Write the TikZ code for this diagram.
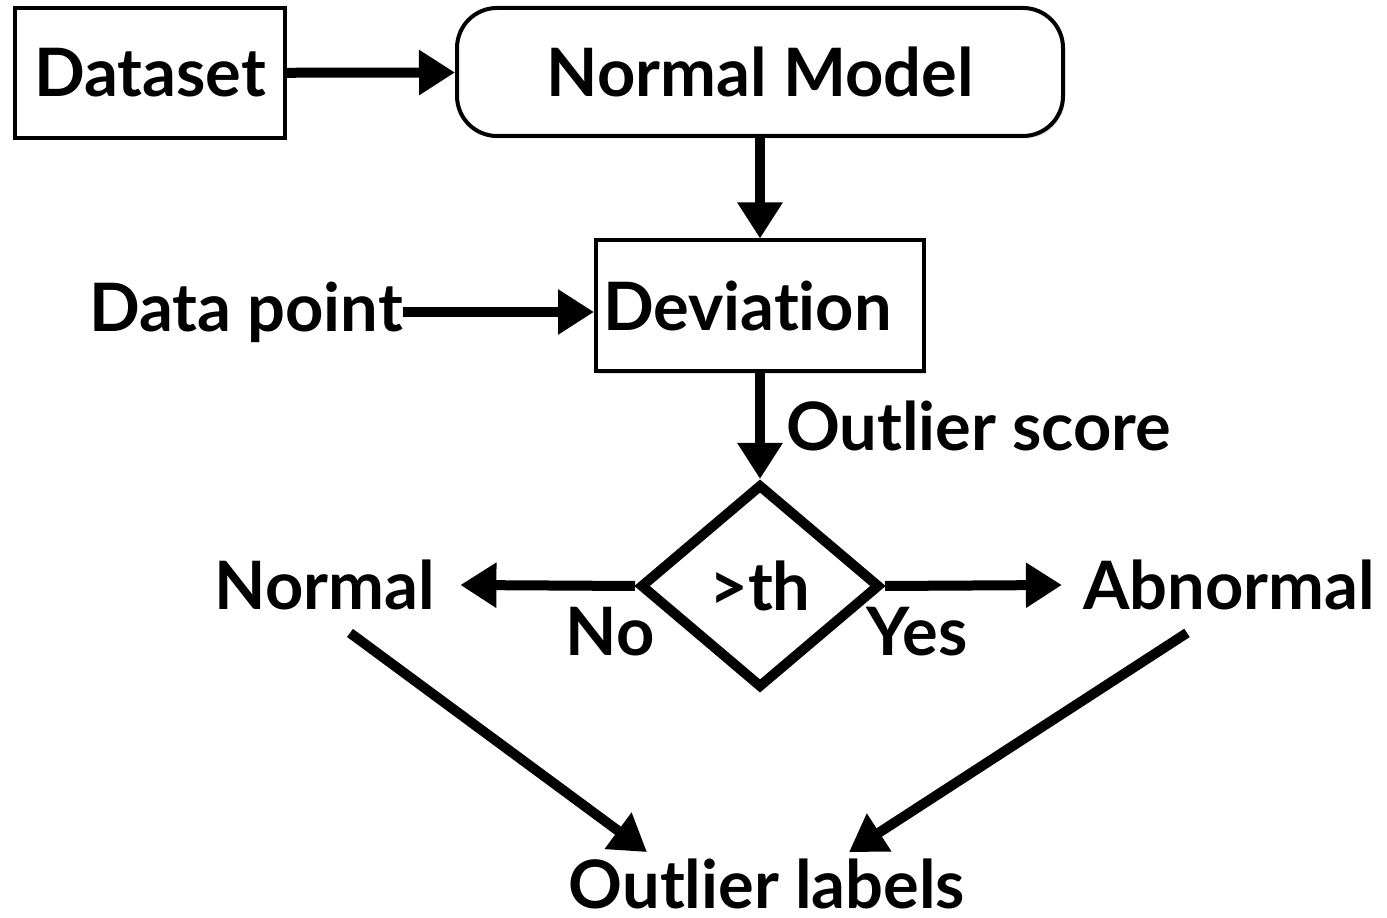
\documentclass[tikz,border=0pt]{standalone}
\usepackage{fontspec}
\setmainfont{Lato}[BoldFont={Lato Bold}, Ligatures={NoCommon}]
\usepackage{tikz}
\usetikzlibrary{shapes.geometric, arrows.meta, positioning, shadows, calc}

\begin{document}
\begin{tikzpicture}[
        every node/.style={font=\bfseries\fontsize{38}{44}\selectfont},
        box/.style={
            rectangle, draw=black, line width=0.08cm, fill=white,
            inner sep=0pt, align=center,
            drop shadow={opacity=0.25, shadow xshift=0.04cm, shadow yshift=-0.05cm}
        },
        lbl/.style={inner sep=0pt},
        decide/.style={
            diamond, draw=black, line width=0.2cm, fill=white,
            minimum width=4.8cm, minimum height=4.08cm, inner sep=0pt
        },
        arrow/.style={-{Triangle[length=0.72cm, width=0.86cm]}, line width=0.2cm}
    ]
        \useasboundingbox (0,0) rectangle (27.74,18.36);

        % Top row
        \node[box, minimum width=5.4cm, minimum height=2.6cm] (data) at (3.0,16.9) {Dataset};
        \node[box, rounded corners=0.8cm, minimum width=12.12cm, minimum height=2.56cm] (model) at (15.2,16.92) {Normal Model};

        % Middle
        \node[box, minimum width=6.56cm, minimum height=2.62cm] (dev) at (15.2,12.24) {Deviation\hspace{0.5cm}};
        \node[lbl] (point) at (4.92,12.12) {Data point};

        % Decision
        \node[decide] (thr) at (15.2,6.64) {>th};
        \node[lbl] (normal) at (6.5,6.66) {Normal};
        \node[lbl] (abnormal) at (24.58,6.66) {Abnormal};
        \node[lbl] (no) at (12.2,5.72) {No};
        \node[lbl] (yes) at (18.34,5.72) {Yes};

        % Bottom
        \node[lbl] (labels) at (15.34,0.68) {Outlier labels};

        % Flow arrows
        \draw[arrow] (data) -- (model);
        \draw[arrow] (model) -- (dev);
        \draw[arrow] (point) -- (dev.west |- point);
        \draw[arrow] (dev) -- (thr)
            node[midway, right, lbl, xshift=0.42cm] {Outlier score};
        \draw[arrow] (thr.west) -- ([xshift=0.5cm]normal.east);
        \draw[arrow] (thr.east) -- ([xshift=-0.42cm]abnormal.west);
        \draw[arrow] ([xshift=0.5cm, yshift=-0.45cm]normal.south) -- ([xshift=-2.4cm, yshift=0.13cm]labels.north);
        \draw[arrow] ([xshift=-0.84cm, yshift=-0.45cm]abnormal.south) -- ([xshift=1.64cm, yshift=0.13cm]labels.north);

    \end{tikzpicture}
\end{document}
